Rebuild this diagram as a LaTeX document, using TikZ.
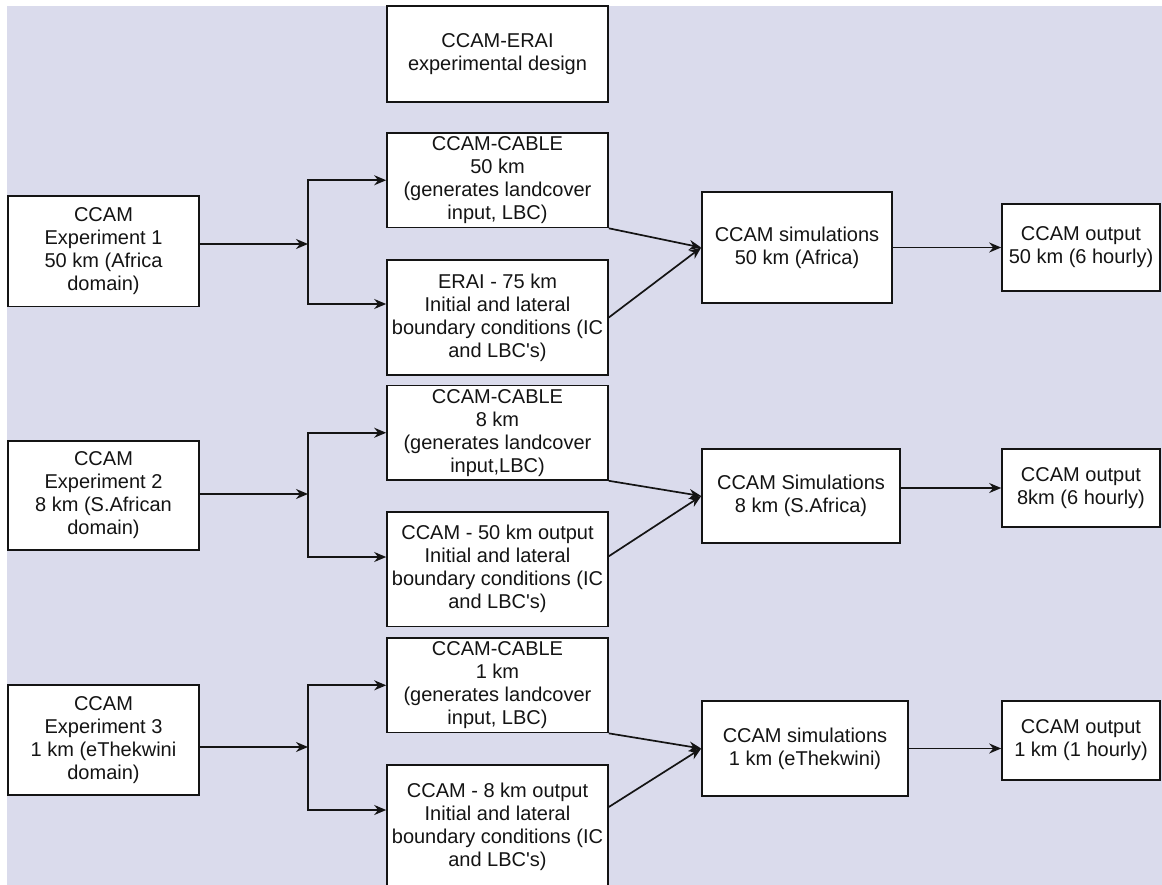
\documentclass[tikz,border=0pt]{standalone}
\usepackage{fontspec}
\setmainfont{Liberation Sans}
\usepackage{tikz}
\usetikzlibrary{arrows.meta,calc}
\definecolor{bgcol}{RGB}{218,219,236}
\definecolor{inkcol}{RGB}{20,20,20}

\begin{document}
\begin{tikzpicture}[x=1pt,y=-1pt,
	box/.style={draw=inkcol,line width=1.6pt,fill=white,align=center,inner sep=1pt,text=inkcol,font=\fontsize{20}{23}\selectfont},
	line/.style={draw=inkcol,line width=1.7pt},
	arrow/.style={line,-{Stealth[length=12pt,width=10pt]}}]
			\useasboundingbox (0,0) rectangle (1162,885);
			\fill[bgcol] (7,6) rectangle (1170,895);
			\node[box, minimum width=221pt, minimum height=95.5pt] at (497.5,54) (Title) {CCAM-ERAI\\experimental design};
			\node[box, minimum width=191pt, minimum height=110.5pt] at (103.5,251.25) (Exp0) {CCAM\\Experiment 1\\50 km (Africa\\domain)};
			\node[box, minimum width=191pt, minimum height=109pt] at (103.5,495.5) (Exp1) {CCAM\\Experiment 2\\8 km (S.African\\domain)};
			\node[box, minimum width=191pt, minimum height=110pt] at (103.5,740) (Exp2) {CCAM\\Experiment 3\\1 km (eThekwini\\domain)};
			\node[box, minimum width=221pt, minimum height=94.5pt] at (497.5,180.25) (Cable0) {CCAM-CABLE\\50 km\\(generates landcover\\input, LBC)};
			\node[box, minimum width=221pt, minimum height=115pt] at (497.5,317.5) (Bc0) {ERAI - 75 km\\Initial and lateral\\boundary conditions (IC\\and LBC\textquotesingle s)};
			\node[box, minimum width=221pt, minimum height=94.5pt] at (497.5,432.75) (Cable1) {CCAM-CABLE\\8 km\\(generates landcover\\input,LBC)};
			\node[box, minimum width=221pt, minimum height=114.5pt] at (497.5,569.25) (Bc1) {CCAM - 50 km output\\Initial and lateral\\boundary conditions (IC\\and LBC\textquotesingle s)};
			\node[box, minimum width=221pt, minimum height=94.5pt] at (497.5,685.3) (Cable2) {CCAM-CABLE\\1 km\\(generates landcover\\input, LBC)};
			\node[box, minimum width=221pt, minimum height=123pt] at (497.5,826.5) (Bc2) {CCAM - 8 km output\\Initial and lateral\\boundary conditions (IC\\and LBC\textquotesingle s)};
			\node[box, minimum width=190pt, minimum height=111pt] at (797,247.5) (Sim0) {CCAM simulations\\50 km (Africa)};
			\node[box, minimum width=198pt, minimum height=94pt] at (801,496) (Sim1) {CCAM Simulations\\8 km (S.Africa)};
			\node[box, minimum width=206pt, minimum height=95pt] at (805,748.5) (Sim2) {CCAM simulations\\1 km (eThekwini)};
			\node[box, minimum width=158pt, minimum height=87pt] at (1081,247.5) (Out0) {CCAM output\\50 km (6 hourly)};
			\node[box, minimum width=158pt, minimum height=78pt] at (1081,488) (Out1) {CCAM output\\8km (6 hourly)};
			\node[box, minimum width=158pt, minimum height=79pt] at (1081,740.5) (Out2) {CCAM output\\1 km (1 hourly)};
			\coordinate (Split0) at (308,244);
			\coordinate (Split1) at (308,494);
			\coordinate (Split2) at (308,747);
			\draw[arrow] ([yshift=7.25pt]Exp0.east) -- (Split0);
			\draw[arrow] ([yshift=1.5pt]Exp1.east) -- (Split1);
			\draw[arrow] ([yshift=-7pt]Exp2.east) -- (Split2);
			\draw[arrow] (Split0) |- (Cable0.west);
			\draw[arrow] (Split0) |- ([yshift=13.5pt]Bc0.west);
			\draw[arrow] (Split1) |- (Cable1.west);
			\draw[arrow] (Split1) |- ([yshift=12.25pt]Bc1.west);
			\draw[arrow] (Split2) |- (Cable2.west);
			\draw[arrow] (Split2) |- ([yshift=16.5pt]Bc2.west);
			\draw[arrow] (Cable0.south east) -- (Sim0.west);
			\draw[arrow] (Bc0.east) -- (Sim0.west);
			\draw[arrow] (Cable1.south east) -- (Sim1.west);
			\draw[arrow] ([yshift=13pt]Bc1.east) -- (Sim1.west);
			\draw[arrow] (Cable2.south east) -- (Sim2.west);
			\draw[arrow] ([yshift=19.5pt]Bc2.east) -- (Sim2.west);
			\draw[arrow] (Sim0) -- (Out0);
			\draw[arrow] (Sim1.east |- Out1.west) -- (Out1.west);
			\draw[arrow] (Sim2.east) -- (Out2.west |- Sim2.east);
\end{tikzpicture}
\end{document}
